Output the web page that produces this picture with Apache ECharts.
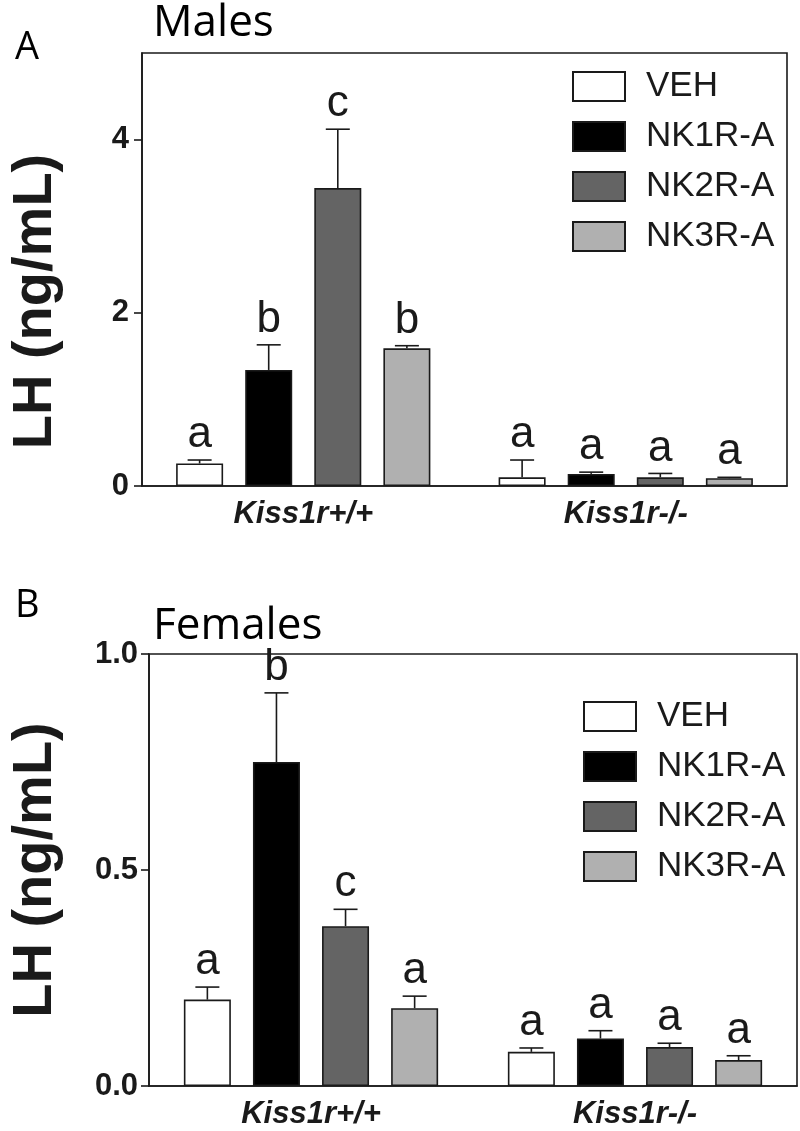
<!DOCTYPE html>
<html>
<head>
<meta charset="utf-8">
<script src="https://cdn.jsdelivr.net/npm/echarts@6/dist/echarts.min.js"></script>
<style>
html,body{margin:0;padding:0;background:#fff;}
#chart{width:800px;height:1131px;}
</style>
</head>
<body>
<div id="chart"></div>
<script>
// ---------- data ----------
const categories = ['Kiss1r+/+', 'Kiss1r-/-'];
const treatments = ['VEH', 'NK1R-A', 'NK2R-A', 'NK3R-A'];
const treatmentColors = ['#ffffff', '#000000', '#646464', '#b0b0b0'];

// Males (panel A): values per treatment, [Kiss1r+/+, Kiss1r-/-]
const maleVEH = [0.26, 0.10];
const maleNK1 = [1.34, 0.14];
const maleNK2 = [3.44, 0.10];
const maleNK3 = [1.59, 0.09];
const maleVEHErr = [0.04, 0.20];
const maleNK1Err = [0.29, 0.02];
const maleNK2Err = [0.68, 0.045];
const maleNK3Err = [0.03, 0.01];
const maleVEHLetters = ['a', 'a'];
const maleNK1Letters = ['b', 'a'];
const maleNK2Letters = ['c', 'a'];
const maleNK3Letters = ['b', 'a'];
const maleTicks = [0, 2, 4];

// Females (panel B)
const femaleVEH = [0.20, 0.079];
const femaleNK1 = [0.75, 0.11];
const femaleNK2 = [0.37, 0.09];
const femaleNK3 = [0.18, 0.06];
const femaleVEHErr = [0.029, 0.009];
const femaleNK1Err = [0.16, 0.018];
const femaleNK2Err = [0.039, 0.009];
const femaleNK3Err = [0.028, 0.01];
const femaleVEHLetters = ['a', 'a'];
const femaleNK1Letters = ['b', 'a'];
const femaleNK2Letters = ['c', 'a'];
const femaleNK3Letters = ['a', 'a'];
const femaleTicks = [0, 0.5, 1.0];

// ---------- build ----------
const maleMeans = [maleVEH, maleNK1, maleNK2, maleNK3];
const maleErrs = [maleVEHErr, maleNK1Err, maleNK2Err, maleNK3Err];
const maleLetters = [maleVEHLetters, maleNK1Letters, maleNK2Letters, maleNK3Letters];
const femaleMeans = [femaleVEH, femaleNK1, femaleNK2, femaleNK3];
const femaleErrs = [femaleVEHErr, femaleNK1Err, femaleNK2Err, femaleNK3Err];
const femaleLetters = [femaleVEHLetters, femaleNK1Letters, femaleNK2Letters, femaleNK3Letters];

const BAR_W = 47;
const GAP_RATIO = 0.47;
const INK = '#1a1a1a';
const AXIS_FONT = '"Liberation Sans", Arial, sans-serif';
const TITLE_FONT = '"Open Sans", "Noto Sans", sans-serif';

function makeErrSeries(panel, ti, means, errs, letters) {
  const data = categories.map((c, ci) => [ci, means[ti][ci], errs[ti][ci]]);
  return {
    type: 'custom',
    name: treatments[ti],
    xAxisIndex: panel, yAxisIndex: panel,
    silent: true, z: 5,
    data: data,
    renderItem: function (params, api) {
      const ci = api.value(0), m = api.value(1), e = api.value(2);
      const base = api.coord([ci, m]);
      const top = api.coord([ci, m + e]);
      const x = base[0] + (ti - 1.5) * BAR_W * (1 + GAP_RATIO);
      const capHalf = 12;
      return {
        type: 'group',
        children: [
          { type: 'line', shape: { x1: x, y1: base[1], x2: x, y2: top[1] },
            style: { stroke: INK, lineWidth: 1.6 } },
          { type: 'line', shape: { x1: x - capHalf, y1: top[1], x2: x + capHalf, y2: top[1] },
            style: { stroke: INK, lineWidth: 1.6 } },
          { type: 'text', x: x, y: top[1] - 3,
            style: { text: letters[ti][params.dataIndex], fontSize: 44,
              fontFamily: AXIS_FONT, fill: INK, align: 'center', verticalAlign: 'bottom' } }
        ]
      };
    }
  };
}

const series = [];
[[maleMeans, maleErrs, maleLetters], [femaleMeans, femaleErrs, femaleLetters]].forEach((set, panel) => {
  treatments.forEach((t, ti) => {
    series.push({
      type: 'bar', name: t,
      xAxisIndex: panel, yAxisIndex: panel,
      data: set[0][ti],
      barWidth: BAR_W, barGap: (GAP_RATIO * 100) + '%',
      itemStyle: { color: treatmentColors[ti], borderColor: INK, borderWidth: 1.6 },
      emphasis: { disabled: true }
    });
  });
  treatments.forEach((t, ti) => {
    series.push(makeErrSeries(panel, ti, set[0], set[1], set[2]));
  });
});

function yAxis(panel, max, interval, ticks, nameGap, namePad, labelMargin, fmt) {
  return {
    type: 'value', gridIndex: panel, min: 0, max: max, interval: interval,
    name: 'LH (ng/mL)', nameLocation: 'middle', nameGap: nameGap,
    nameTextStyle: { fontSize: 56, fontWeight: 'bold', fontFamily: AXIS_FONT, color: INK, padding: namePad },
    axisLine: { show: true, lineStyle: { color: INK, width: 1.6 } },
    axisTick: { show: true, length: 8, lineStyle: { color: INK, width: 1.6 }, customValues: ticks },
    axisLabel: { fontSize: 31, fontWeight: 'bold', fontFamily: AXIS_FONT, color: INK, margin: labelMargin,
      customValues: ticks, formatter: fmt },
    splitLine: { show: false }
  };
}

function xAxis(panel) {
  return {
    type: 'category', gridIndex: panel, data: categories,
    axisLine: { lineStyle: { color: INK, width: 1.6 } },
    axisTick: { alignWithLabel: true, length: 10, lineStyle: { color: INK, width: 1.6 } },
    axisLabel: { fontSize: 31, fontWeight: 'bold', fontStyle: 'italic', fontFamily: AXIS_FONT, color: INK, margin: 13 }
  };
}

function legend(left, top) {
  return {
    left: left, top: top, orient: 'vertical',
    data: treatments,
    itemWidth: 52, itemHeight: 29, itemGap: 15,
    icon: 'rect',
    textStyle: { fontSize: 35, fontFamily: AXIS_FONT, color: INK, padding: [0, 0, 0, 16] },
    selectedMode: false
  };
}

const option = {
  animation: false,
  backgroundColor: '#ffffff',
  title: [
    { text: 'Males', left: 148, top: -4, textStyle: { fontSize: 44, fontWeight: 'normal', fontFamily: TITLE_FONT, color: '#000' } },
    { text: 'A', left: 10, top: 24, textStyle: { fontSize: 38, fontWeight: 'normal', fontFamily: TITLE_FONT, color: '#000' } },
    { text: 'Females', left: 148, top: 599, textStyle: { fontSize: 44, fontWeight: 'normal', fontFamily: TITLE_FONT, color: '#000' } },
    { text: 'B', left: 10, top: 582, textStyle: { fontSize: 38, fontWeight: 'normal', fontFamily: TITLE_FONT, color: '#000' } }
  ],
  legend: [legend(567, 64), legend(578, 694)],
  grid: [
    { left: 139, top: 53, width: 648, height: 433, show: true, borderColor: INK, borderWidth: 1.6, backgroundColor: 'transparent' },
    { left: 148, top: 654, width: 649, height: 432, show: true, borderColor: INK, borderWidth: 1.6, backgroundColor: 'transparent' }
  ],
  xAxis: [xAxis(0), xAxis(1)],
  yAxis: [
    yAxis(0, 5, 1, maleTicks, 78, [0, 64, 0, 0], 13, v => String(v)),
    yAxis(1, 1, 0.5, femaleTicks, 85, [0, 0, 0, 0], 11, v => v.toFixed(1))
  ],
  series: series
};

const chart = echarts.init(document.getElementById('chart'), null, { renderer: 'canvas' });
chart.setOption(option);
</script>
</body>
</html>
